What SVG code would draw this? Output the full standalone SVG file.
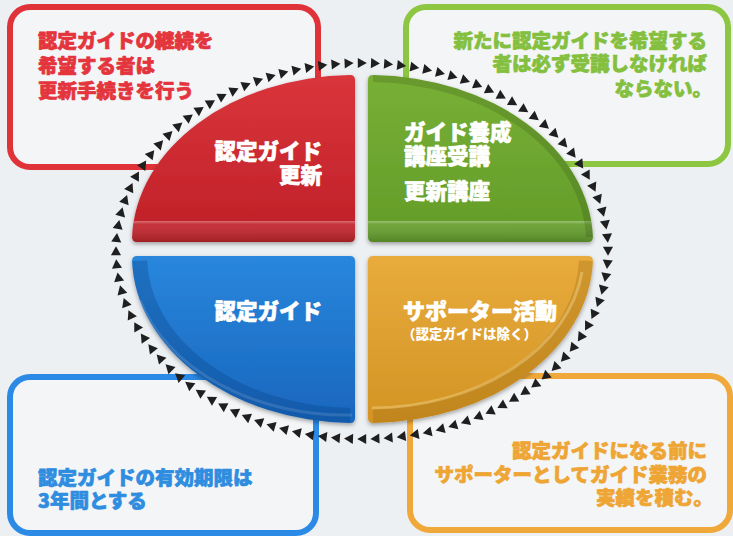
<svg xmlns="http://www.w3.org/2000/svg" width="733" height="536" viewBox="0 0 733 536">
<style>
.box{stroke-width:6;fill:#f3f5f7}
.t{font-family:"Noto Sans CJK JP","Noto Sans CJK SC",sans-serif;font-weight:900;stroke-width:0.7;stroke-linejoin:round}
.bt{font-size:19.5px}
.qt{font-size:21.5px;fill:#ffffff;stroke:#ffffff}
</style>
<defs>
<linearGradient id="gR" x1="0" y1="0" x2="0" y2="1"><stop offset="0" stop-color="#d9353b"/><stop offset="1" stop-color="#bf2028"/></linearGradient>
<linearGradient id="gG" x1="0" y1="0" x2="0" y2="1"><stop offset="0" stop-color="#78b036"/><stop offset="1" stop-color="#629c29"/></linearGradient>
<linearGradient id="gB" x1="0" y1="0" x2="0" y2="1"><stop offset="0" stop-color="#2987dc"/><stop offset="1" stop-color="#1866bd"/></linearGradient>
<linearGradient id="gO" x1="0" y1="0" x2="0" y2="1"><stop offset="0" stop-color="#e8ab3c"/><stop offset="1" stop-color="#d39424"/></linearGradient>
<linearGradient id="rim" x1="0" y1="0" x2="0" y2="1"><stop offset="0" stop-color="#ffffff" stop-opacity="0.35"/><stop offset="0.15" stop-color="#ffffff" stop-opacity="0.08"/><stop offset="1" stop-color="#000000" stop-opacity="0.18"/></linearGradient>
<filter id="sh" x="-10%" y="-10%" width="120%" height="130%"><feDropShadow dx="0" dy="2" stdDeviation="2" flood-color="#000" flood-opacity="0.35"/></filter>
<clipPath id="cR"><path d="M350,242 Q355,242 355,237 L355,80 Q355,75 350,75 A223 167 0 0 0 132.1,237 Q132,242 137,242 Z"/></clipPath>
<clipPath id="cG"><path d="M373,242 Q368,242 368,237 L368,80 Q368,75 373,75 A225 167 0 0 1 592.9,237 Q593,242 588,242 Z"/></clipPath>
<clipPath id="cB"><path d="M137,256 Q132,256 132.1,261 A223 167 0 0 0 350,423 Q355,423 355,418 L355,261 Q355,256 350,256 Z"/></clipPath>
<clipPath id="cO"><path d="M373,256 L588,256 Q593,256 592.9,261 A225 167 0 0 1 373,423 Q368,423 368,418 L368,261 Q368,256 373,256 Z"/></clipPath>
<marker id="tri" viewBox="0 0 10 10" refX="5" refY="5" markerWidth="12" markerHeight="12" markerUnits="userSpaceOnUse" orient="auto"><path d="M1.5,0.8 L9,5 L1.5,9.2 Z" fill="#1f1f1f"/></marker>
</defs>
<rect width="733" height="536" fill="#edf0f3"/>

<g id="box-red"><rect class="box" x="10" y="7" width="308" height="160" rx="20" stroke="#e03339"/>
<text class="t bt" fill="#e4343c" stroke="#e4343c"><tspan x="38" y="48">認定ガイドの継続を</tspan><tspan x="38" y="73">希望する者は</tspan><tspan x="38" y="98">更新手続きを行う</tspan></text></g>

<g id="box-green"><rect class="box" x="406" y="7" width="322" height="157" rx="20" stroke="#8dc641"/>
<text class="t bt" fill="#84c03e" stroke="#84c03e" text-anchor="end"><tspan x="707" y="47.5">新たに認定ガイドを希望する</tspan><tspan x="707" y="71">者は必ず受講しなければ</tspan><tspan x="712" y="95.5">ならない。</tspan></text></g>

<g id="box-blue"><rect class="box" x="10" y="377" width="306" height="156" rx="20" stroke="#2a8ae6"/>
<text class="t bt" fill="#2f8de0" stroke="#2f8de0"><tspan x="38" y="484.5">認定ガイドの有効期限は</tspan><tspan x="38" y="507.5">3年間とする</tspan></text></g>

<g id="box-orange"><rect class="box" x="410" y="376" width="320" height="154" rx="20" stroke="#f0a83a"/>
<text class="t bt" fill="#eea534" stroke="#eea534" text-anchor="end"><tspan x="707" y="457.5">認定ガイドになる前に</tspan><tspan x="707" y="481.5">サポーターとしてガイド業務の</tspan><tspan x="713" y="504.5">実績を積む。</tspan></text></g>

<g id="quad-red">
<path filter="url(#sh)" fill="url(#gR)" d="M350,242 Q355,242 355,237 L355,80 Q355,75 350,75 A223 167 0 0 0 132.1,237 Q132,242 137,242 Z"/>
<rect x="128" y="221" width="230" height="22" fill="url(#rim)" clip-path="url(#cR)"/>
<text class="t qt" text-anchor="end"><tspan x="322" y="159">認定ガイド</tspan><tspan x="322" y="183">更新</tspan></text>
</g>
<g id="quad-green">
<path filter="url(#sh)" fill="url(#gG)" d="M373,242 Q368,242 368,237 L368,80 Q368,75 373,75 A225 167 0 0 1 592.9,237 Q593,242 588,242 Z"/>
<rect x="365" y="221" width="232" height="22" fill="url(#rim)" clip-path="url(#cG)"/>
<path d="M373,75 A225 167 0 0 1 592.9,237" fill="none" stroke="#000" stroke-opacity="0.12" stroke-width="14" clip-path="url(#cG)"/>
<text class="t qt"><tspan x="404" y="140">ガイド養成</tspan><tspan x="404" y="164">講座受講</tspan><tspan x="404" y="199">更新講座</tspan></text>
</g>
<g id="quad-blue">
<path filter="url(#sh)" fill="url(#gB)" d="M137,256 Q132,256 132.1,261 A223 167 0 0 0 350,423 Q355,423 355,418 L355,261 Q355,256 350,256 Z"/>
<path d="M132.1,261 A223 167 0 0 0 350,423" fill="none" stroke="#0a3f80" stroke-opacity="0.3" stroke-width="30" clip-path="url(#cB)"/>
<path d="M140,300 A215 159 0 0 0 352,415" fill="none" stroke="#ffffff" stroke-opacity="0.12" stroke-width="3" clip-path="url(#cB)"/>
<text class="t qt" text-anchor="end" x="322" y="319">認定ガイド</text>
</g>
<g id="quad-orange">
<path filter="url(#sh)" fill="url(#gO)" d="M373,256 L588,256 Q593,256 592.9,261 A225 167 0 0 1 373,423 Q368,423 368,418 L368,261 Q368,256 373,256 Z"/>
<path d="M592.9,261 A225 167 0 0 1 373,423" fill="none" stroke="#8a5a08" stroke-opacity="0.25" stroke-width="28" clip-path="url(#cO)"/>
<path d="M582,272 A213 155 0 0 1 372,408" fill="none" stroke="#ffe9a8" stroke-opacity="0.35" stroke-width="3" clip-path="url(#cO)"/>
<text class="t" fill="#ffffff" stroke="#ffffff" font-size="22" x="403" y="318.5">サポーター活動</text>
<text class="t" fill="#ffffff" stroke="none" font-size="13.5" x="402" y="339">（認定ガイドは除く）</text>
</g>

<g id="connectors">
<path transform="translate(362,251)" fill="none" stroke="none" marker-start="url(#tri)" marker-mid="url(#tri)" d="M0,-188 L13.2,-187.7 L26.3,-186.9 L39.4,-185.6 L52.5,-183.7 L65.4,-181.2 L78.3,-178.2 L90.9,-174.7 L103.4,-170.6 L115.8,-165.9 L127.8,-160.6 L139.6,-154.8 L151.1,-148.3 L162.3,-141.3 L173,-133.7 L183.3,-125.4 L193,-116.6 L202.1,-107.1 L210.7,-97.1 L218.5,-86.4 L225.4,-75.3 L231.5,-63.6 L236.6,-51.5 L240.7,-39 L243.6,-26.2 L245.4,-13.1 L246,0 L245.4,13.1 L243.6,26.2 L240.7,39 L236.6,51.5 L231.5,63.6 L225.4,75.3 L218.5,86.4 L210.7,97.1 L202.1,107.1 L193,116.6 L183.3,125.4 L173,133.7 L162.3,141.3 L151.1,148.3 L139.6,154.8 L127.8,160.6 L115.8,165.9 L103.4,170.6 L90.9,174.7 L78.3,178.2 L65.4,181.2 L52.5,183.7 L39.4,185.6 L26.3,186.9 L13.2,187.7 L0,188 L-13.2,187.7 L-26.3,186.9 L-39.4,185.6 L-52.5,183.7 L-65.4,181.2 L-78.3,178.2 L-90.9,174.7 L-103.4,170.6 L-115.8,165.9 L-127.8,160.6 L-139.6,154.8 L-151.1,148.3 L-162.3,141.3 L-173,133.7 L-183.3,125.4 L-193,116.6 L-202.1,107.1 L-210.7,97.1 L-218.5,86.4 L-225.4,75.3 L-231.5,63.6 L-236.6,51.5 L-240.7,39 L-243.6,26.2 L-245.4,13.1 L-246,0 L-245.4,-13.1 L-243.6,-26.2 L-240.7,-39 L-236.6,-51.5 L-231.5,-63.6 L-225.4,-75.3 L-218.5,-86.4 L-210.7,-97.1 L-202.1,-107.1 L-193,-116.6 L-183.3,-125.4 L-173,-133.7 L-162.3,-141.3 L-151.1,-148.3 L-139.6,-154.8 L-127.8,-160.6 L-115.8,-165.9 L-103.4,-170.6 L-90.9,-174.7 L-78.3,-178.2 L-65.4,-181.2 L-52.5,-183.7 L-39.4,-185.6 L-26.3,-186.9 L-13.2,-187.7 Z"/>
</g>
</svg>
